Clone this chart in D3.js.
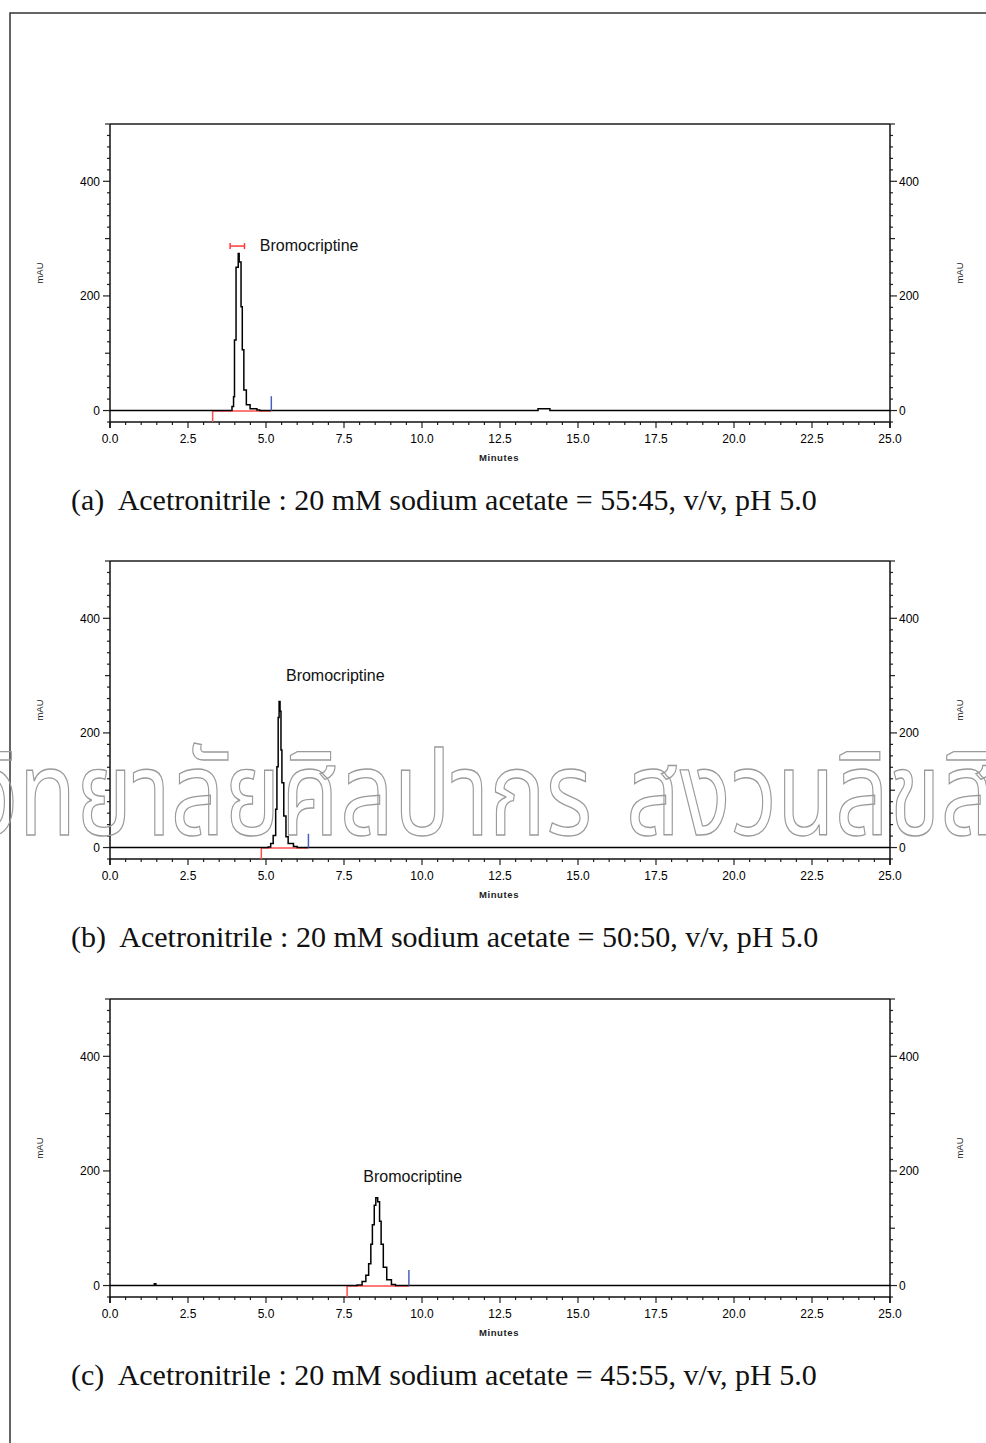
<!DOCTYPE html>
<html><head><meta charset="utf-8">
<script src="https://cdn.jsdelivr.net/npm/d3@7"></script>
<style>body{margin:0;background:#fff}svg{display:block}</style>
</head><body>
<svg id="chart" width="986" height="1443"></svg>
<script>
// ---- data ----
const xTickLabels = ["0.0","2.5","5.0","7.5","10.0","12.5","15.0","17.5","20.0","22.5","25.0"];
const yTickLabels = ["0","200","400"];
const captions = [
  "(a)  Acetronitrile : 20 mM sodium acetate = 55:45, v/v, pH 5.0",
  "(b)  Acetronitrile : 20 mM sodium acetate = 50:50, v/v, pH 5.0",
  "(c)  Acetronitrile : 20 mM sodium acetate = 45:55, v/v, pH 5.0"
];
const peakName = "Bromocriptine";
// chromatogram traces (minutes, mAU)
const traceA_t = [0, 3.85, 3.91, 3.96, 3.99, 4.04, 4.08, 4.11, 4.14, 4.17, 4.20, 4.24, 4.29, 4.37, 4.49, 4.71, 4.80, 13.65, 13.72, 14.05, 14.10, 25];
const traceA_v = [0, 0, 7, 24, 123, 250, 250, 274, 259, 259, 181, 106, 36, 10, 3, 1, 0, 0, 3, 3, 0, 0];
const traceB_t = [0, 5.02, 5.07, 5.15, 5.23, 5.31, 5.35, 5.39, 5.42, 5.45, 5.48, 5.51, 5.57, 5.64, 5.71, 5.88, 6.00, 25];
const traceB_v = [0, 0, 1, 7, 21, 67, 141, 227, 255, 238, 170, 113, 55, 19, 7, 2, 0, 0];
const traceC_t = [0, 1.38, 1.42, 1.47, 7.85, 7.92, 8.08, 8.20, 8.29, 8.36, 8.41, 8.47, 8.52, 8.58, 8.64, 8.69, 8.76, 8.87, 9.02, 9.15, 25];
const traceC_v = [0, 0, 3, 0, 0, 1, 7, 18, 38, 72, 106, 140, 153, 146, 112, 72, 32, 10, 2, 0, 0];
// integration marks: baseline start (red), end (blue), label position
const intStart = [3.29, 4.85, 7.60];
const intEnd = [5.17, 6.36, 9.58];
const endMarkHeight = [25, 24, 27];
const labelT = [4.8, 5.64, 8.12];
const labelV = [288, 300, 191];
const rangeBarA = [3.85, 4.31, 287];
const watermarkLeft = "มหาวิทยาลัยศิลปากร";
const watermarkRight = "สงวนลิขสิทธิ์";

const traces = [
  traceA_t.map((t,i)=>[t,traceA_v[i]]),
  traceB_t.map((t,i)=>[t,traceB_v[i]]),
  traceC_t.map((t,i)=>[t,traceC_v[i]])
];

const svg = d3.select("#chart");
// outer frame
svg.append("path").attr("d","M10,1443 V13 H986").attr("fill","none").attr("stroke","#333").attr("stroke-width",1.5);

const panelTop = [124, 561, 999];
const L = 110, R = 890, H = 298;
const tickFont = "Arial, 'Liberation Sans', sans-serif";

panelTop.forEach((top, p) => {
  const bottom = top + H;
  const x = d3.scaleLinear().domain([0,25]).range([L,R]);
  const y = d3.scaleLinear().domain([-20,500]).range([bottom, top]);
  const g = svg.append("g");

  // minor/major x ticks
  const xMinor = d3.range(0, 25.01, 0.5);
  g.selectAll(".xm").data(xMinor).join("line")
    .attr("x1",d=>x(d)).attr("x2",d=>x(d)).attr("y1",bottom)
    .attr("y2",d=> (Math.abs(d/2.5-Math.round(d/2.5))<1e-6) ? bottom+6 : bottom+3)
    .attr("stroke","#222").attr("stroke-width",1.2);
  g.selectAll(".xl").data(xTickLabels).join("text")
    .attr("x",(d)=>x(+d)).attr("y",bottom+21).attr("text-anchor","middle")
    .attr("font-family",tickFont).attr("font-size",12).attr("fill","#000").text(d=>d);
  g.append("text").attr("x",(L+R)/2-1).attr("y",bottom+39).attr("text-anchor","middle")
    .attr("font-family",tickFont).attr("font-size",9.5).attr("font-weight","bold")
    .attr("letter-spacing",0.6).attr("fill","#222").text("Minutes");

  // y ticks on both sides
  const yMinor = d3.range(-20, 500.1, 20);
  [[L,-1],[R,1]].forEach(([ax,dir])=>{
    g.selectAll(null).data(yMinor).join("line")
      .attr("x1",ax).attr("x2",d=> ax + dir*((d%200===0)?7:(d%100===0?5:3)))
      .attr("y1",d=>y(d)).attr("y2",d=>y(d))
      .attr("stroke","#222").attr("stroke-width",1.2);
    g.selectAll(null).data(yTickLabels).join("text")
      .attr("x", dir<0 ? ax-10 : ax+9).attr("y",d=>y(+d)+4.5)
      .attr("text-anchor", dir<0 ? "end" : "start")
      .attr("font-family",tickFont).attr("font-size",12).attr("fill","#000").text(d=>d);
    g.append("text").attr("transform",`translate(${dir<0?43:963},${(top+bottom)/2}) rotate(-90)`)
      .attr("text-anchor","middle").attr("font-family",tickFont).attr("font-size",9.5)
      .attr("fill","#222").text("mAU");
  });

  // box
  g.append("line").attr("x1",L).attr("x2",R).attr("y1",top).attr("y2",top).attr("stroke","#555").attr("stroke-width",2);
  g.append("line").attr("x1",L).attr("x2",L).attr("y1",top).attr("y2",bottom+6).attr("stroke","#111").attr("stroke-width",1.5);
  g.append("line").attr("x1",R).attr("x2",R).attr("y1",top).attr("y2",bottom+6).attr("stroke","#111").attr("stroke-width",1.5);
  g.append("line").attr("x1",L).attr("x2",R).attr("y1",bottom).attr("y2",bottom).attr("stroke","#111").attr("stroke-width",1.5);

  // integration baseline
  g.append("line").attr("x1",x(intStart[p])).attr("x2",x(intEnd[p])).attr("y1",y(0)+0.5).attr("y2",y(0)+0.5)
    .attr("stroke","#ff4d4d").attr("stroke-width",1.5);
  g.append("line").attr("x1",x(intStart[p])).attr("x2",x(intStart[p])).attr("y1",y(0)).attr("y2",bottom)
    .attr("stroke","#ff4d4d").attr("stroke-width",1.5);

  // trace
  g.append("path").datum(traces[p])
    .attr("d", d3.line().x(d=>x(d[0])).y(d=>y(d[1])).curve(d3.curveStepAfter))
    .attr("fill","none").attr("stroke","#000").attr("stroke-width",1.5);

  g.append("line").attr("x1",x(intEnd[p])).attr("x2",x(intEnd[p])).attr("y1",y(0)).attr("y2",y(endMarkHeight[p]))
    .attr("stroke","#4a5fc1").attr("stroke-width",1.5);

  if (p===0) {
    const [a,b,v] = rangeBarA;
    const rb = g.append("g").attr("stroke","#ff3b3b").attr("stroke-width",1.5);
    rb.append("line").attr("x1",x(a)).attr("x2",x(b)).attr("y1",y(v)).attr("y2",y(v));
    rb.append("line").attr("x1",x(a)).attr("x2",x(a)).attr("y1",y(v)-3).attr("y2",y(v)+3);
    rb.append("line").attr("x1",x(b)).attr("x2",x(b)).attr("y1",y(v)-3).attr("y2",y(v)+3);
  }
  g.append("text").attr("x",x(labelT[p])).attr("y",y(labelV[p])+5.5)
    .attr("font-family",tickFont).attr("font-size",16).attr("fill","#111").text(peakName);

  svg.append("text").attr("x",71).attr("y",bottom+88)
    .attr("font-family","'Liberation Serif','Times New Roman',serif").attr("font-size",30)
    .attr("fill","#111").attr("xml:space","preserve").style("white-space","pre").text(captions[p]);
});

// watermark (outlined Thai text, cropped at page edges)
const wmFont = "'Noto Sans Thai','Loma','Garuda','DejaVu Sans',sans-serif";
svg.append("text").attr("transform","translate(592,835) scale(0.8,1)")
  .attr("text-anchor","end").attr("font-family",wmFont).attr("font-size",118)
  .attr("fill","none").attr("stroke","#9a9a9a").attr("stroke-width",1.4)
  .text(watermarkLeft);
svg.append("text").attr("transform","translate(626,835) scale(0.8,1)")
  .attr("text-anchor","start").attr("font-family",wmFont).attr("font-size",118)
  .attr("fill","none").attr("stroke","#9a9a9a").attr("stroke-width",1.4)
  .text(watermarkRight);
</script>
</body></html>
